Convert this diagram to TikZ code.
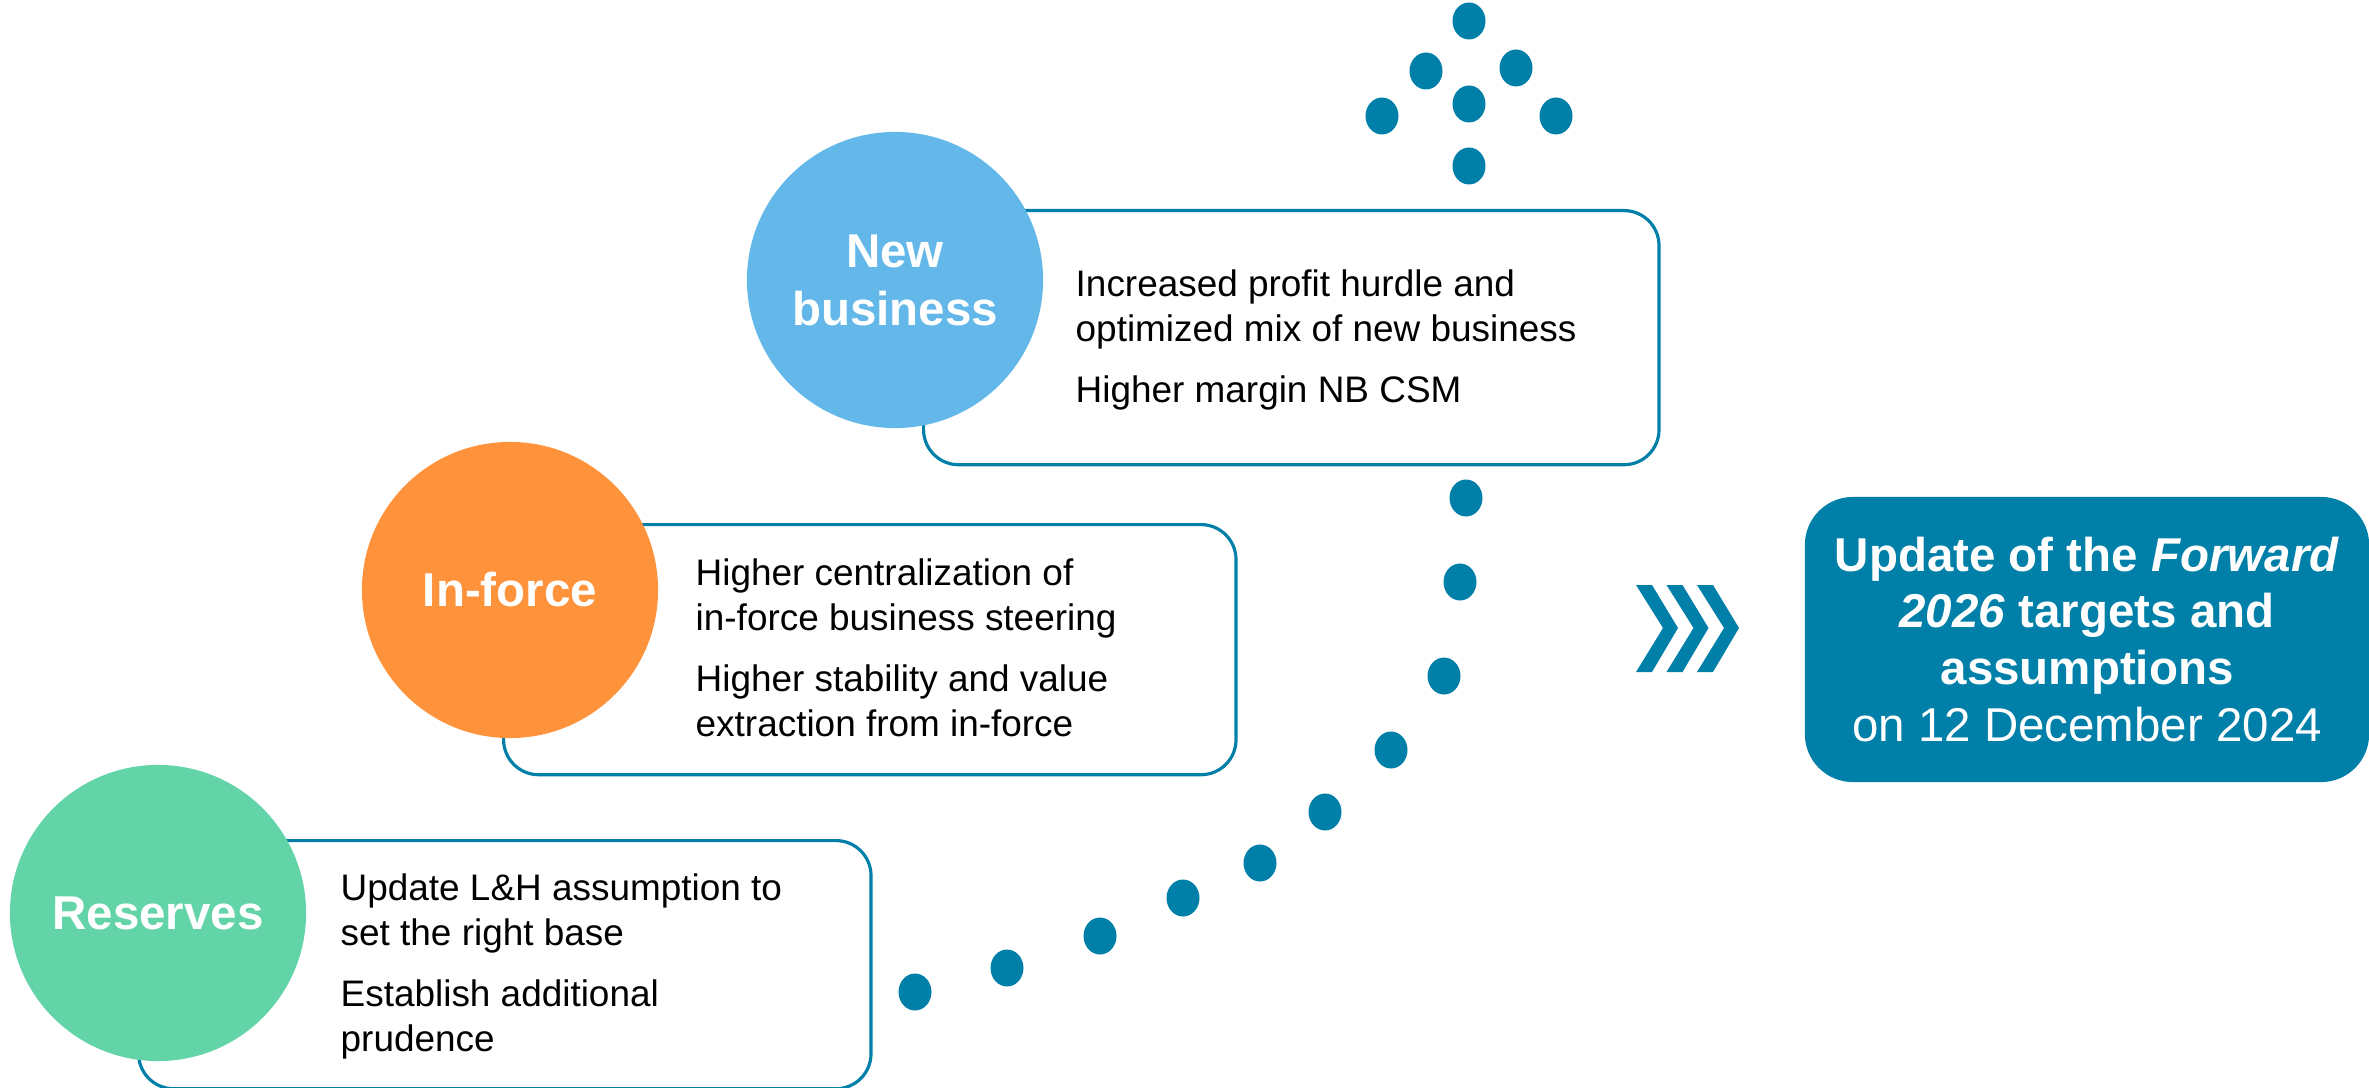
\documentclass[tikz,border=0pt]{standalone}
\usepackage{fontspec}
\setmainfont{Liberation Sans}
\usepackage{xcolor}
\usepackage{tikz}
\usetikzlibrary{shapes.geometric}

\definecolor{swteal}{HTML}{0080A8}
\definecolor{swblue}{HTML}{63B8E9}
\definecolor{sworange}{HTML}{FF933B}
\definecolor{swgreen}{HTML}{63D4A8}

\begin{document}
\begin{tikzpicture}[
    x=0.01cm, y=-0.01cm,
    stage/.style={circle, minimum size=2.96cm, inner sep=0pt, align=center, text=white, font=\fontsize{13.5}{16.5}\selectfont\bfseries},
    detail/.style={rectangle, draw=swteal, line width=0.9pt, rounded corners=0.35cm, fill=white, minimum width=7.32cm, minimum height=2.5cm, anchor=north west},
    points/.style={anchor=north west, inner sep=0pt, align=left, font=\fontsize{10.5}{12.8}\selectfont},
    goal/.style={rectangle, fill=swteal, rounded corners=0.48cm, minimum width=5.64cm, minimum height=2.85cm, text=white, align=center, font=\fontsize{13.5}{16.2}\selectfont},
    pathdot/.style={fill=swteal}
]
\useasboundingbox (0,0) rectangle (2369,1088);

% Detail boxes
\node[detail, minimum width=7.35cm, minimum height=2.54cm] (nbbox) at (922,209) {};
\node[detail] (ifbox) at (502,523) {};
\node[detail, minimum height=2.48cm] (resbox) at (137,839) {};

% Stage circles
\node[stage, fill=swblue] (nb) at (895,280) {New\\business};
\node[stage, fill=sworange] (inforce) at (510,590) {In-force};
\node[stage, fill=swgreen] (res) at (158,913) {Reserves};

% Box texts
\node[points] (nbtext) at (1075,264.5) {\strut Increased profit hurdle and\\optimized mix of new business\\[4.4pt]Higher margin NB CSM};
\node[points] (iftext) at (695,553.5) {\strut Higher centralization of\\in-force business steering\\[4.4pt]Higher stability and value\\extraction from in-force};
\node[points] (restext) at (340,868.5) {\strut Update L\&H assumption to\\set the right base\\[4.4pt]Establish additional\\prudence};

% Dotted path and arrow head
\foreach \px/\py in {915/992, 1007/968, 1100/936, 1183/898, 1260/863, 1325/812, 1391/750, 1444/676, 1460/582, 1466/498,
                     1469/166, 1469/104, 1382/116, 1556/116, 1426/71, 1516/68, 1469/21}
    \fill[pathdot] (\px,\py) ellipse [x radius=16.5, y radius=18.5];

% Chevrons
\foreach \dx in {0,30.5,61}
    \fill[swteal] ({1636+\dx},585) -- ++(16,0) -- ++(26,43) -- ++(-26,44) -- ++(-16,0) -- ++(27,-44) -- cycle;

% Target box
\node[goal] (target) at (2087,639.5) {\textbf{Update of the \textit{Forward}}\\\textbf{\textit{2026} targets and}\\\textbf{assumptions}\\on 12 December 2024};
\end{tikzpicture}
\end{document}
